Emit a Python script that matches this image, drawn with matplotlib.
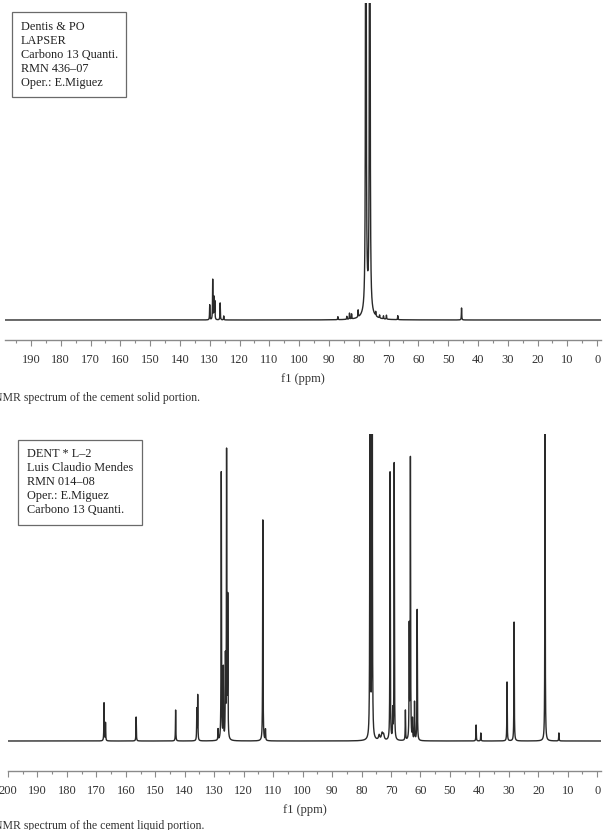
import numpy as np
import matplotlib.pyplot as plt
from matplotlib.ticker import MultipleLocator

plt.rcParams['font.family'] = ['Liberation Serif', 'DejaVu Serif']

# Upper spectrum: cement solid portion (peak heights in pixels above baseline)
top_ppm = [130.0, 129.0, 128.6, 128.3, 126.5, 125.3, 87.0, 84.0, 83.1, 82.4,
           80.2, 77.6, 76.3, 77.0, 74.3, 73.0, 71.7, 70.7, 66.9, 45.5]
top_height = [15, 40, 22, 18, 17, 4, 3, 3, 6, 5,
              7, 2000, 2000, 12, 4, 3, 3, 4, 4, 12]
top_width = [0.07, 0.07, 0.07, 0.07, 0.07, 0.07, 0.07, 0.07, 0.07, 0.07,
             0.07, 0.063, 0.063, 1.2, 0.07, 0.07, 0.07, 0.07, 0.07, 0.07]

# Lower spectrum: cement liquid portion
bot_ppm = [167.4, 166.9, 156.5, 143.1, 135.9, 135.6, 128.7, 127.6, 126.9, 126.2,
           125.8, 125.4, 113.5, 112.6, 77.1, 76.4, 74.0, 73.0, 72.5, 70.3,
           69.4, 68.9, 65.1, 63.8, 63.4, 62.7, 62.0, 61.1, 41.1, 39.5,
           30.6, 28.2, 17.7, 13.0]
bot_height = [38, 18, 24, 31, 31, 45, 11, 268, 71, 79,
              286, 139, 221, 11, 1500, 1500, 5, 7, 5, 268,
              28, 277, 30, 111, 281, 20, 38, 131, 16, 8,
              59, 119, 330, 8]
bot_width = [0.07] * 14 + [0.045, 0.045] + [0.25, 0.3, 0.25] + [0.07] * 15

top_label = "Dentis & PO\nLAPSER\nCarbono 13 Quanti.\nRMN 436\u201307\nOper.: E.Miguez"
bot_label = "DENT * L\u20132\nLuis Claudio Mendes\nRMN 014\u201308\nOper.: E.Miguez\nCarbono 13 Quanti."
top_caption = "NMR spectrum of the cement solid portion."
bot_caption = "NMR spectrum of the cement liquid portion."


def spectrum(x, ppm, height, width):
    y = np.zeros_like(x)
    for p, h, w in zip(ppm, height, width):
        y += h * w ** 2 / ((x - p) ** 2 + w ** 2)
    return y


W, H = 606, 830
fig = plt.figure(figsize=(W / 100, H / 100), dpi=100)

ax1 = fig.add_axes([5 / W, 1 - 340 / H, 596 / W, 337 / H])
ax2 = fig.add_axes([8 / W, 1 - 771 / H, 593 / W, 337 / H])

x = np.linspace(201, -2, 40000)

for ax, ppm, hgt, wid, xl, yl in [
        (ax1, top_ppm, top_height, top_width, (198.7, -1.3), (-20, 317)),
        (ax2, bot_ppm, bot_height, bot_width, (200.0, -1.3), (-30, 307))]:
    ax.plot(x, spectrum(x, ppm, hgt, wid), color='#2a2a2a', lw=1.0)
    ax.set_xlim(*xl)
    ax.set_ylim(*yl)
    for s in ['left', 'right', 'top']:
        ax.spines[s].set_visible(False)
    ax.spines['bottom'].set_color('#8a8a8a')
    ax.spines['bottom'].set_linewidth(1.0)
    ax.set_yticks([])
    ax.xaxis.set_major_locator(MultipleLocator(10))
    ax.xaxis.set_minor_locator(MultipleLocator(5))
    ax.tick_params(axis='x', which='major', length=4, width=0.8, color='#8a8a8a',
                   labelsize=9, labelcolor='#333333', pad=6)
    ax.tick_params(axis='x', which='minor', length=2.5, width=0.8, color='#8a8a8a')
    ax.set_xlabel('f1 (ppm)', fontsize=9, color='#333333', labelpad=5)
    ax.patch.set_alpha(0)

box = dict(boxstyle='square,pad=0.7', facecolor='white', edgecolor='#6a6a6a', lw=0.9)
fig.text(20.7 / W, 1 - 20.7 / H, top_label, fontsize=8.8, linespacing=1.22,
         va='top', ha='left', color='#222222', bbox=box)
fig.text(26.7 / W, 1 - 448.4 / H, bot_label, fontsize=8.8, linespacing=1.22,
         va='top', ha='left', color='#222222', bbox=box)

# captions are cropped at the left edge in the source page
fig.text(-6 / W, 1 - 398 / H, top_caption, fontsize=8.5, va='center', ha='left', color='#333333')
fig.text(-6 / W, 1 - 826 / H, bot_caption, fontsize=8.5, va='center', ha='left', color='#333333')

fig.savefig('out.png', dpi=100)
